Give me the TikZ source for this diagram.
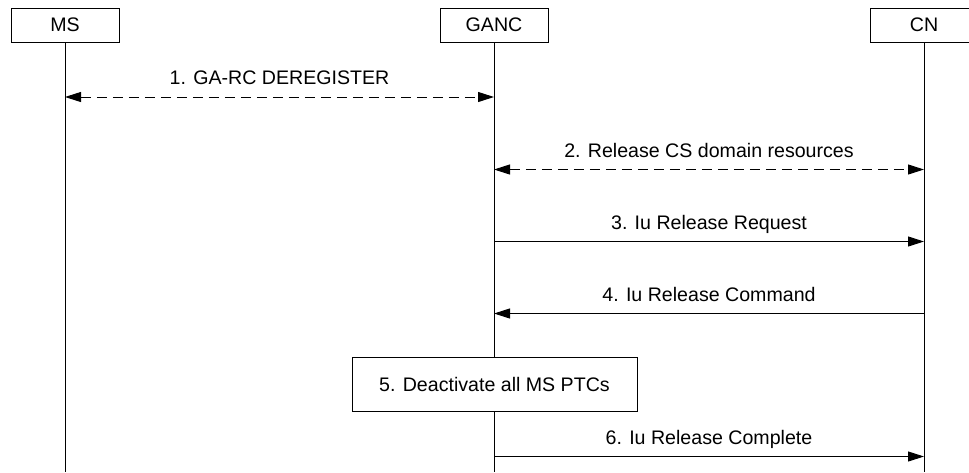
\documentclass[tikz,border=0pt]{standalone}
\usepackage{fontspec}
\setmainfont{Liberation Sans}
\usetikzlibrary{arrows.meta}
\begin{document}
\begin{tikzpicture}[x=1pt,y=-1pt,
  every node/.style={font=\fontsize{19.6}{23}\selectfont},
  entity/.style={draw,line width=1pt,minimum width=108pt,minimum height=34pt,inner sep=0pt,fill=white},
  procbox/.style={draw,line width=1pt,minimum width=285pt,minimum height=54pt,inner sep=0pt,fill=white},
  life/.style={line width=1pt},
  msg/.style={line width=1pt,-{Triangle[length=16pt,width=10pt]}},
  dmsg/.style={line width=1pt,{Triangle[length=16pt,width=10pt]}-{Triangle[length=16pt,width=10pt]},dash pattern=on 10pt off 6pt},
  lbl/.style={anchor=base,yshift=12.5pt,inner sep=0pt}]
\useasboundingbox (0,0) rectangle (969,472);
\clip (0,0) rectangle (969,472);
% lifeline ends
\coordinate (msend) at (65,472);
\coordinate (gancend) at (494,472);
\coordinate (cnend) at (924,472);
% entities
\node[entity] (ms) at (65,25) {MS};
\node[entity] (ganc) at (494,25) {GANC};
\node[entity] (cn) at (924,25) {CN};
\draw[life] (ms.south) -- (msend);
\draw[life] (ganc.south) -- (gancend);
\draw[life] (cn.south) -- (cnend);
% message anchor points
\coordinate (m1a) at (65,97);  \coordinate (m1b) at (494,97);
\coordinate (m2a) at (494,169.5); \coordinate (m2b) at (924,169.5);
\coordinate (m3a) at (494,241.5); \coordinate (m3b) at (924,241.5);
\coordinate (m4a) at (924,313.5); \coordinate (m4b) at (494,313.5);
\coordinate (m6a) at (494,456.5); \coordinate (m6b) at (924,456.5);
% messages
\draw[dmsg] (m1a) -- node[lbl] (t1) {1. GA-RC DEREGISTER} (m1b);
\draw[dmsg] (m2a) -- node[lbl] (t2) {2. Release CS domain resources} (m2b);
\draw[msg] (m3a) -- node[lbl] (t3) {3. Iu Release Request} (m3b);
\draw[msg] (m4a) -- node[lbl] (t4) {4. Iu Release Command} (m4b);
\node[procbox] (p5) at (494.5,384) {5. Deactivate all MS PTCs};
\draw[msg] (m6a) -- node[lbl] (t6) {6. Iu Release Complete} (m6b);
\end{tikzpicture}
\end{document}
